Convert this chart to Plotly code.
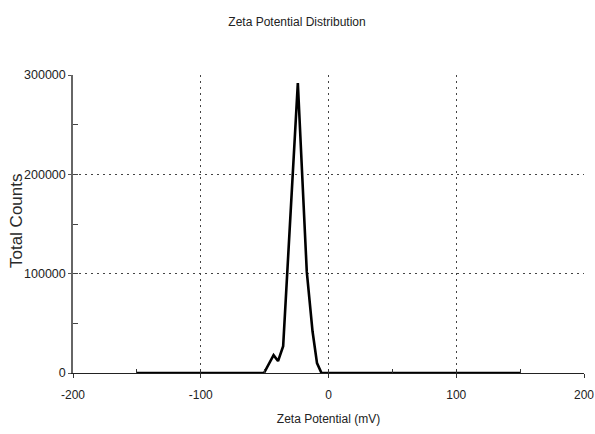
import plotly.graph_objects as go

# Data
zeta_mv = [-150, -50.5, -43, -39.5, -35.5, -24, -17, -12.5, -9, -5.5, 150]
total_counts = [0, 0, 18000, 12000, 27000, 292000, 102000, 42000, 10000, 0, 0]

x_label_vals = [-200, -100, 0, 100, 200]
x_label_text = ["-200", "-100", "0", "100", "200"]
x_all_ticks = [-200, -150, -100, -50, 0, 50, 100, 150, 200]
x_grid_vals = [-100, 0, 100]

y_label_vals = [0, 100000, 200000, 300000]
y_label_text = ["0", "100000", "200000", "300000"]
y_all_ticks = [0, 50000, 100000, 150000, 200000, 250000, 300000]
y_grid_vals = [100000, 200000]

font_main = "Liberation Sans, Arial, sans-serif"
txt = "#222222"

fig = go.Figure()

# helper invisible traces so overlay axes are drawn
fig.add_trace(go.Scatter(x=[-200], y=[0], xaxis="x2", yaxis="y2", mode="markers",
                         marker=dict(opacity=0), showlegend=False, hoverinfo="skip"))
fig.add_trace(go.Scatter(x=[-200], y=[0], xaxis="x3", yaxis="y3", mode="markers",
                         marker=dict(opacity=0), showlegend=False, hoverinfo="skip"))

fig.add_trace(go.Scatter(x=zeta_mv, y=total_counts, mode="lines",
                         line=dict(color="black", width=2.6), showlegend=False))

common_x = dict(range=[-200, 200], zeroline=False, fixedrange=True, automargin=False)
common_y = dict(range=[0, 300000], zeroline=False, fixedrange=True, automargin=False)
grid_dash = "2px,4px"

fig.update_layout(
    width=595, height=434,
    margin=dict(l=73, r=11, t=75, b=61),
    paper_bgcolor="white", plot_bgcolor="white",
    title=dict(text="Zeta Potential Distribution", x=297 / 595, xanchor="center",
               y=1 - 22 / 434, yanchor="middle", automargin=False,
               font=dict(family=font_main, size=12, color=txt)),
    xaxis=dict(**common_x, tickmode="array", tickvals=x_label_vals, ticktext=x_label_text,
               ticks="outside", ticklen=4, tickcolor="#333", showgrid=False,
               showline=True, linecolor="#222", linewidth=1, ticklabeloverflow="allow",
               ticklabelstandoff=7,
               tickfont=dict(family=font_main, size=12, color=txt),
               title=dict(text="Zeta Potential (mV)", standoff=13,
                          font=dict(family=font_main, size=12, color=txt))),
    xaxis2=dict(**common_x, overlaying="x", anchor="y", tickmode="array", tickvals=x_all_ticks,
                ticks="inside", ticklen=4, tickcolor="#333", showticklabels=False,
                showgrid=False, showline=False),
    xaxis3=dict(**common_x, overlaying="x", anchor="y", tickmode="array", tickvals=x_grid_vals,
                ticks="", showticklabels=False, showgrid=True, gridcolor="#444",
                griddash=grid_dash, gridwidth=1, showline=False),
    yaxis=dict(**common_y, tickmode="array", tickvals=y_label_vals, ticktext=y_label_text,
               ticks="outside", ticklen=3, tickcolor="#555", showgrid=False,
               showline=True, linecolor="#666", linewidth=1.5, ticklabelstandoff=0,
               tickfont=dict(family=font_main, size=12.5, color=txt)),
    yaxis2=dict(**common_y, overlaying="y", anchor="x", tickmode="array", tickvals=y_all_ticks,
                ticks="inside", ticklen=5, tickcolor="#444", showticklabels=False,
                showgrid=False, showline=False),
    yaxis3=dict(**common_y, overlaying="y", anchor="x", tickmode="array", tickvals=y_grid_vals,
                ticks="", showticklabels=False, showgrid=True, gridcolor="#444",
                griddash=grid_dash, gridwidth=1, showline=False),
    annotations=[dict(text="Total Counts", textangle=-90, xref="paper", yref="paper",
                      x=0, y=0.51, xanchor="center", yanchor="middle", xshift=-57,
                      showarrow=False,
                      font=dict(family=font_main, size=17, color="#2a2a2a"))],
)

fig.write_html("out.html", config={"displayModeBar": False},
               post_script="document.body.style.margin='0';document.body.style.overflow='hidden';")
